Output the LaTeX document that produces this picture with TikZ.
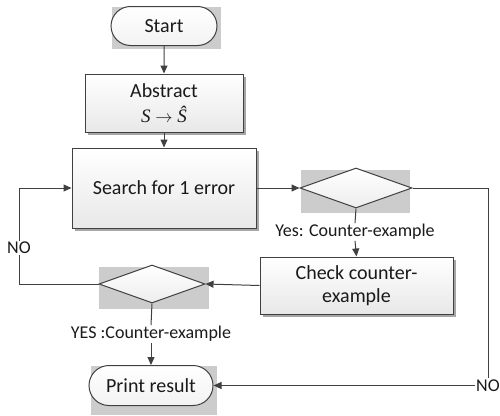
\documentclass[tikz,border=0pt]{standalone}
\usepackage{fontspec}
\setmainfont{Carlito}
\newfontfamily\lserif{Liberation Serif}
\usetikzlibrary{shapes.geometric,shapes.misc,arrows.meta,shadows}
\definecolor{linec}{HTML}{404040}
\definecolor{txtc}{HTML}{1A1A1A}
\tikzset{
  base/.style={draw=linec, line width=1pt, text=txtc, font=\fontsize{20}{24}\selectfont, align=center},
  boxnode/.style={base, rectangle, top color=white, bottom color=black!9,
     drop shadow={shadow xshift=2.5pt, shadow yshift=-2.5pt, fill=black!35, opacity=1}},
  termnode/.style={base, rounded rectangle, top color=white, bottom color=black!5, inner sep=0pt},
  decnode/.style={base, diamond, top color=white, bottom color=black!7, inner sep=0pt, aspect=2.7},
  bgrect/.style={fill=black!20, draw=none},
  lbl/.style={text=txtc, font=\fontsize{18}{21}\selectfont, inner sep=1pt},
  conn/.style={draw=linec, line width=1pt},
  arr/.style={conn, -{Triangle[length=8pt,width=7pt]}}
}
\begin{document}
\begin{tikzpicture}[x=1pt,y=-1pt]
\useasboundingbox (0,0) rectangle (500,415);
% gray backgrounds
\fill[bgrect] (112,7) rectangle (221,49);
\fill[bgrect] (301,170) rectangle (410,213);
\fill[bgrect] (99,267) rectangle (209,309);
\fill[bgrect] (91,366) rectangle (217,415);
% nodes
\node[termnode, minimum width=106pt, minimum height=39pt] (start) at (164,26) {Start};
\node[boxnode, minimum width=158pt, minimum height=58pt, inner sep=0pt] (abs) at (164,103)
  {Abstract\\[1pt] {\lserif\fontsize{19}{20}\selectfont\itshape S\/ \upshape$\rightarrow$ \itshape Ŝ}};
\node[boxnode, minimum width=184pt, minimum height=80pt] (search) at (164,188) {Search for 1 error};
\node[decnode, minimum width=112pt, minimum height=40pt] (d1) at (356,188) {};
\node[boxnode, minimum width=193pt, minimum height=57pt, inner sep=0pt] (check) at (356.5,285.5)
  {Check counter-\\[-1pt]example};
\node[decnode, minimum width=106pt, minimum height=38pt] (d2) at (152,284) {};
\node[termnode, minimum width=124pt, minimum height=40pt] (print) at (151,385.5) {Print result};
% labels
\node[lbl] (yes1) at (355,232) {Yes: Counter-example};
\node[lbl] (yes2) at (151,334) {YES :Counter-example};
\node[lbl] (noL) at (19,248) {NO};
\node[lbl] (noR) at (488,385.5) {NO};
\coordinate (cL1) at (19,284);
\coordinate (cL2) at (19,188);
\coordinate (cR1) at (488,188);
% connectors
\draw[arr] (start) -- (abs);
\draw[arr] (abs) -- (search);
\draw[arr] (search) -- (d1);
\draw[conn] (d1.south) -- (yes1.north);
\draw[arr] (yes1.south) -- (check.north);
\draw[arr] (check.west) -- (d2.east);
\draw[conn] (d2.west) -- (cL1) -- (noL.south);
\draw[arr] (noL.north) -- (cL2) -- (search.west);
\draw[conn] (d2.south) -- (yes2.north);
\draw[arr] (yes2.south) -- (print.north);
\draw[conn] (d1.east) -- (cR1) -- (noR.north);
\draw[arr] (noR.west) -- (print.east);
\end{tikzpicture}
\end{document}
